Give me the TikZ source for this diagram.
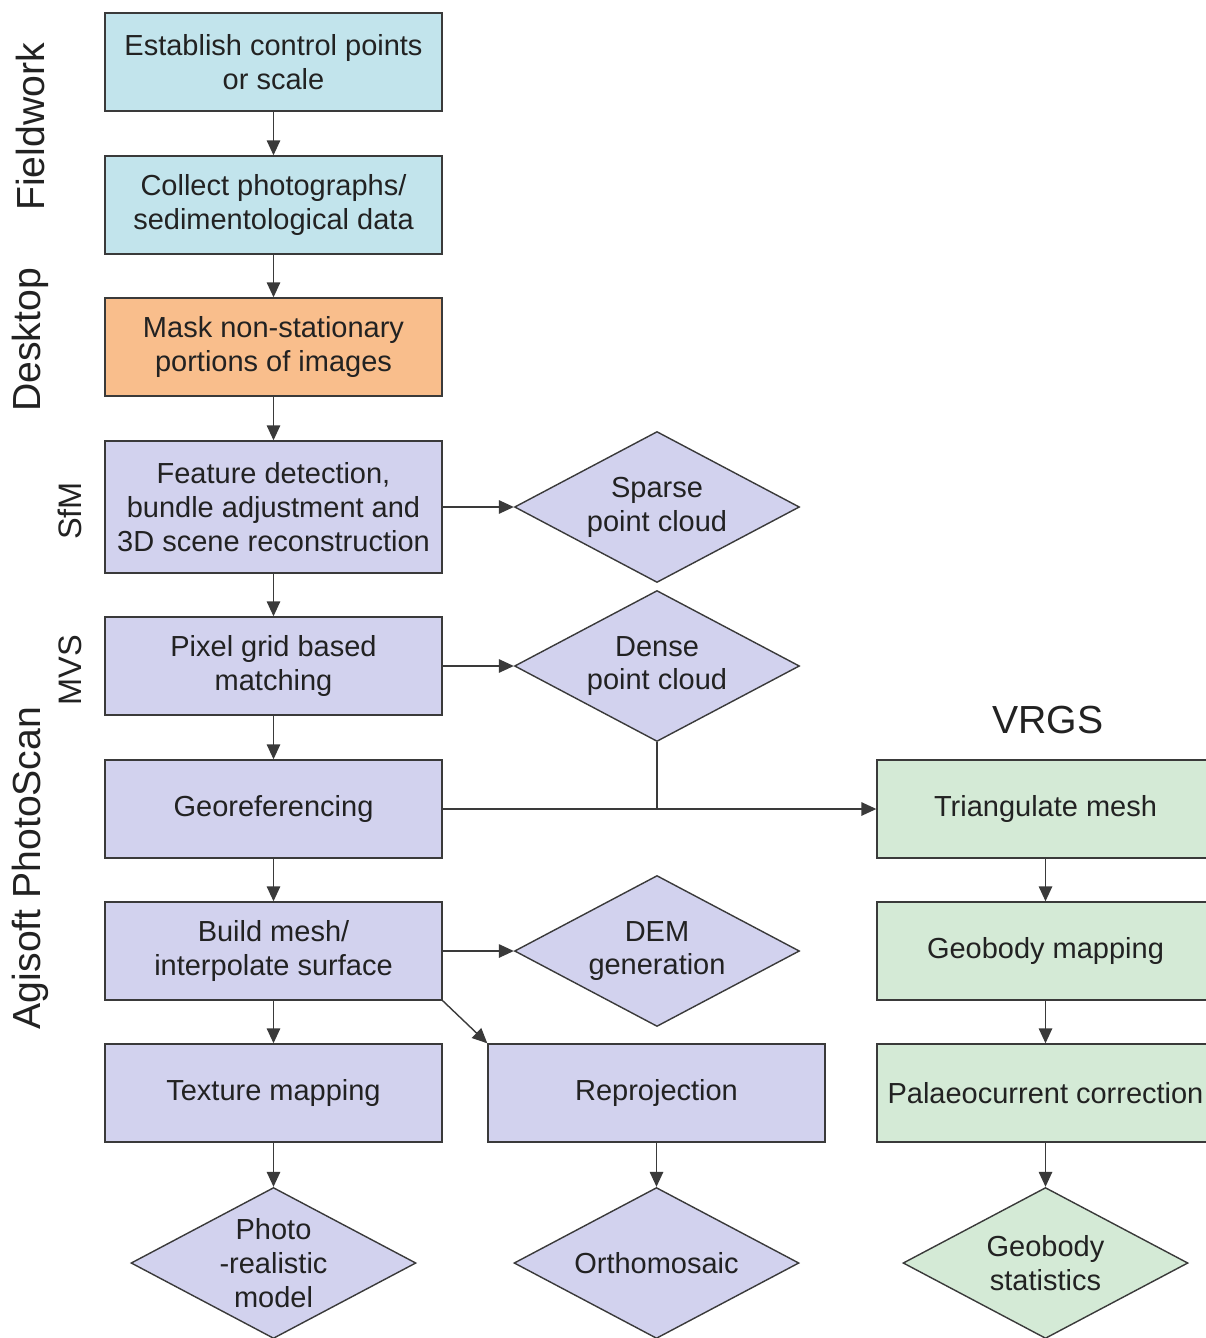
\documentclass[tikz,border=0pt]{standalone}
\usepackage{fontspec}
\setmainfont{Liberation Sans}
\usepackage{tikz}
\usetikzlibrary{shapes.geometric,arrows.meta}
\definecolor{agsBlue}{HTML}{C2E4EC}
\definecolor{agsOrange}{HTML}{F9BE8C}
\definecolor{agsLilac}{HTML}{D2D2EE}
\definecolor{agsGreen}{HTML}{D4EAD6}
\definecolor{agsLine}{HTML}{3A3A3A}
\definecolor{agsText}{HTML}{222222}
\newcommand{\flowfont}{\fontsize{16.5}{19.3}\selectfont}
\newcommand{\phasefont}{\fontsize{22.3}{26}\selectfont}

\begin{document}
\begin{tikzpicture}[x=0.02cm, y=-0.02cm,
  stepbox/.style={draw=agsLine, line width=0.8pt, minimum width=6.74cm, minimum height=1.96cm,
    inner sep=0pt, align=center, text=agsText, font=\flowfont},
  outcome/.style={diamond, draw=agsLine, line width=0.8pt, minimum width=5.7cm, minimum height=3.02cm,
    aspect=1.89, inner sep=0pt, align=center, text=agsText, font=\flowfont},
  flow/.style={draw=agsLine, line width=0.8pt, -{Triangle[length=0.3cm, width=0.27cm]}},
  phase/.style={rotate=90, text=agsText, font=\phasefont}]
  \useasboundingbox (0,0) rectangle (1206,1338);
  \clip (0,0) rectangle (1206,1338);

  % Phase labels
  \node[phase] (fieldwork) at (30,127) {Fieldwork};
  \node[phase] (desktop) at (30,340) {Desktop};
  \node[phase] (agisoft) at (30,868) {Agisoft PhotoScan};
  \node[phase, font=\fontsize{18.5}{22}\selectfont] (sfm) at (70,511) {SfM};
  \node[phase, font=\fontsize{18.5}{22}\selectfont] (mvs) at (70,670) {MVS};
  \node[text=agsText, font=\phasefont] (vrgs) at (1048,720) {VRGS};

  % Main column
  \node[stepbox, fill=agsBlue] (control) at (273.5,62) {Establish control points\\or scale};
  \node[stepbox, fill=agsBlue] (photos) at (273.5,205) {Collect photographs/\\sedimentological data};
  \node[stepbox, fill=agsOrange] (mask) at (273.5,347) {Mask non-stationary\\portions of images};
  \node[stepbox, fill=agsLilac, minimum height=2.64cm] (feature) at (273.5,507) {Feature detection,\\bundle adjustment and\\3D scene reconstruction};
  \node[stepbox, fill=agsLilac] (pixel) at (273.5,666) {Pixel grid based\\matching};
  \node[stepbox, fill=agsLilac] (georef) at (273.5,809) {Georeferencing};
  \node[stepbox, fill=agsLilac] (mesh) at (273.5,951) {Build mesh/\\interpolate surface};
  \node[stepbox, fill=agsLilac] (texture) at (273.5,1093) {Texture mapping};
  \node[stepbox, fill=agsLilac] (reproj) at (656.5,1093) {Reprojection};

  % Products
  \node[outcome, fill=agsLilac] (sparse) at (657,507) {Sparse\\point cloud};
  \node[outcome, fill=agsLilac] (dense) at (657,666) {Dense\\point cloud};
  \node[outcome, fill=agsLilac] (dem) at (657,951) {DEM\\generation};
  \node[outcome, fill=agsLilac] (photoreal) at (273.5,1263) {Photo\\-realistic\\model};
  \node[outcome, fill=agsLilac] (ortho) at (656.5,1263) {Orthomosaic};

  % VRGS column
  \node[stepbox, fill=agsGreen] (triangulate) at (1045.5,809) {Triangulate mesh};
  \node[stepbox, fill=agsGreen] (geomap) at (1045.5,951) {Geobody mapping};
  \node[stepbox, fill=agsGreen] (palaeo) at (1045.5,1093) {Palaeocurrent correction};
  \node[outcome, fill=agsGreen] (geostats) at (1045.5,1263) {Geobody\\statistics};

  % Connectors
  \draw[flow] (control) -- (photos);
  \draw[flow] (photos) -- (mask);
  \draw[flow] (mask) -- (feature);
  \draw[flow] (feature) -- (pixel);
  \draw[flow] (pixel) -- (georef);
  \draw[flow] (georef) -- (mesh);
  \draw[flow] (mesh) -- (texture);
  \draw[flow] (feature) -- (sparse);
  \draw[flow] (pixel) -- (dense);
  \draw[flow] (mesh) -- (dem);
  \draw[flow] (mesh.south east) -- (reproj.north west);
  \draw[flow] (texture) -- (photoreal);
  \draw[flow] (reproj) -- (ortho);
  \coordinate (join) at (dense.south |- georef.east);
  \draw[agsLine, line width=0.8pt] (dense.south) -- (join);
  \draw[flow] (georef.east) -- (triangulate.west);
  \draw[flow] (triangulate) -- (geomap);
  \draw[flow] (geomap) -- (palaeo);
  \draw[flow] (palaeo) -- (geostats);
\end{tikzpicture}
\end{document}
